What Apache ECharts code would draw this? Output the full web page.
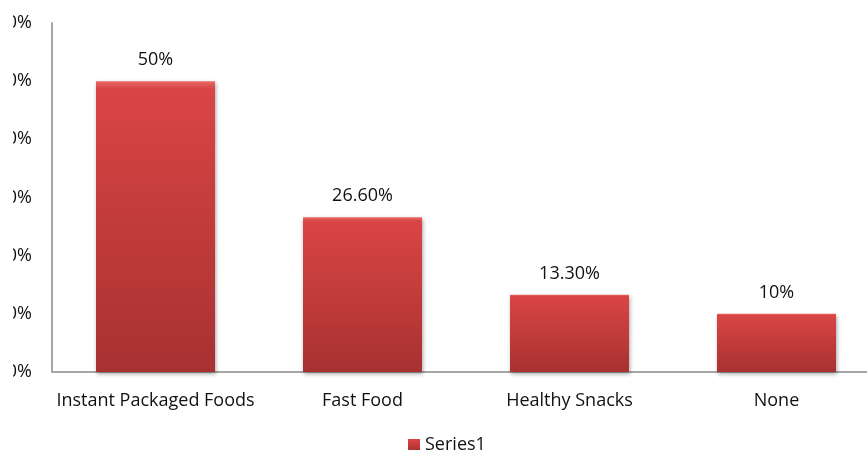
<!DOCTYPE html>
<html>
<head>
<meta charset="utf-8">
<script src="https://cdn.jsdelivr.net/npm/echarts@6/dist/echarts.min.js"></script>
<style>
  html, body { margin: 0; padding: 0; background: #fff; overflow: hidden; width: 867px; height: 450px; }
  #chart { width: 900px; height: 450px; }
</style>
</head>
<body>
<div id="chart"></div>
<script>
// Snack preference survey
const categories = ['Instant Packaged Foods', 'Fast Food', 'Healthy Snacks', 'None'];
const seriesName = 'Series1';
const shares = [50, 26.6, 13.3, 10];
const axisMax = 60;
const axisStep = 10;

const FONT = '"Open Sans", sans-serif';
const pct = v => (Number.isInteger(v) ? v : v.toFixed(2)) + '%';

const chart = echarts.init(document.getElementById('chart'));
chart.setOption({
  animation: false,
  backgroundColor: '#ffffff',
  grid: { left: 52, top: 23, width: 828, height: 349, containLabel: false, outerBoundsMode: 'none' },
  legend: {
    data: [seriesName],
    bottom: -9,
    left: 403,
    icon: 'rect',
    itemWidth: 12,
    itemHeight: 12,
    itemGap: 4,
    textStyle: { fontFamily: FONT, fontSize: 18, color: '#111' }
  },
  xAxis: {
    type: 'category',
    data: categories,
    axisLine: { lineStyle: { color: '#a6a6a6', width: 2 } },
    axisTick: { show: false },
    axisLabel: { fontFamily: FONT, fontSize: 18, color: '#111', margin: 20, interval: 0 }
  },
  yAxis: {
    type: 'value',
    min: 0,
    max: axisMax,
    interval: axisStep,
    splitLine: { show: false },
    axisLine: { show: true, lineStyle: { color: '#a6a6a6', width: 2 } },
    axisTick: { show: false },
    axisLabel: { fontFamily: FONT, fontSize: 18, color: '#111', margin: 20, formatter: v => v + '%' }
  },
  series: [{
    name: seriesName,
    type: 'bar',
    data: shares,
    barWidth: 119,
    itemStyle: {
      color: new echarts.graphic.LinearGradient(0, 0, 0, 1, [
        { offset: 0, color: '#ea6a6a' },
        { offset: 0.025, color: '#da4545' },
        { offset: 1, color: '#a83131' }
      ]),
      shadowColor: 'rgba(0,0,0,0.35)',
      shadowBlur: 4,
      shadowOffsetX: 1,
      shadowOffsetY: 2
    },
    label: {
      show: true,
      position: 'top',
      distance: 12,
      fontFamily: FONT,
      fontSize: 18,
      color: '#111',
      formatter: p => pct(p.value)
    }
  }],
  graphic: [{
    type: 'rect',
    left: 0,
    top: 0,
    shape: { width: 13, height: 450 },
    style: { fill: '#ffffff' },
    z: 100
  }]
});
</script>
</body>
</html>
